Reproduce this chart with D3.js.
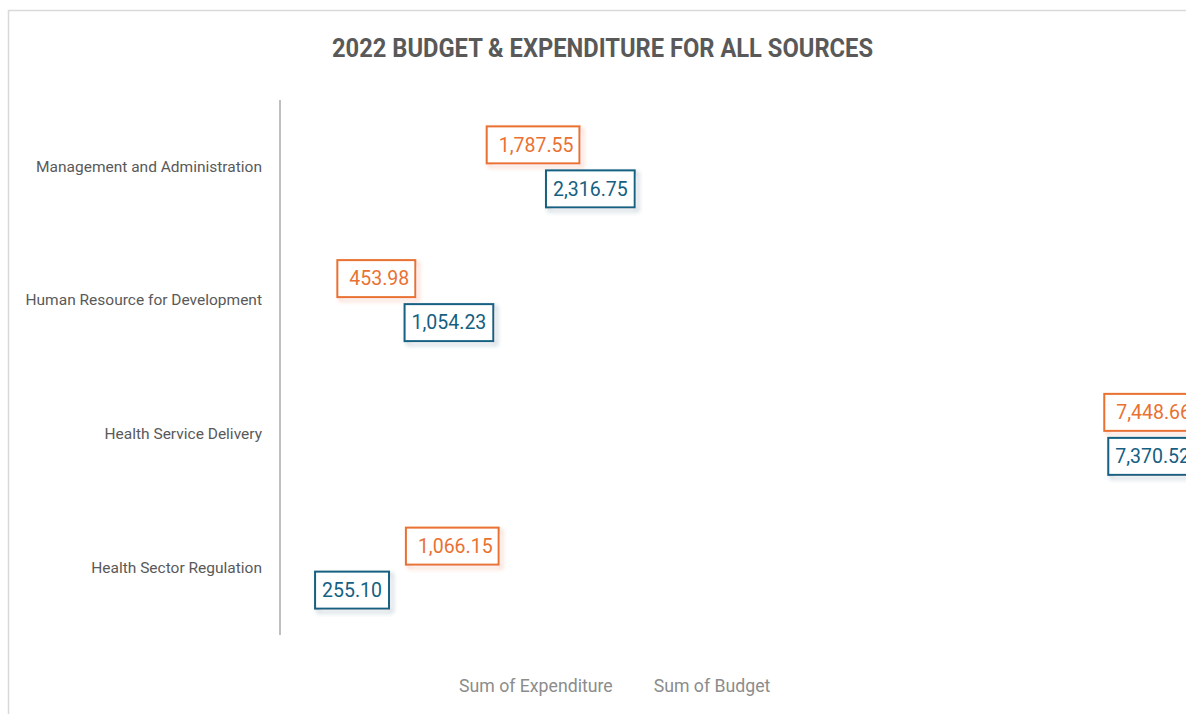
<!DOCTYPE html>
<html>
<head>
<meta charset="utf-8">
<script src="https://cdn.jsdelivr.net/npm/d3@7"></script>
<style>
  html, body { margin: 0; padding: 0; background: #ffffff; }
  svg { display: block; }
</style>
</head>
<body>
<svg id="chart" width="1186" height="714"></svg>
<script>
// Budget vs expenditure per programme area (2022, all sources)
const categories = [
  "Management and Administration",
  "Human Resource for Development",
  "Health Service Delivery",
  "Health Sector Regulation"
];
const seriesNames = ["Sum of Expenditure", "Sum of Budget"];
const expenditure = [1787.55, 453.98, 7448.66, 1066.15];
const budget = [2316.75, 1054.23, 7370.52, 255.10];
const chartTitle = "2022 BUDGET & EXPENDITURE FOR ALL SOURCES";

const W = 1186, H = 714;
const svg = d3.select("#chart");

const colors = { "Sum of Expenditure": "#E97132", "Sum of Budget": "#156082" };
const padLeft = { "Sum of Expenditure": 12, "Sum of Budget": 7 };
const padRight = { "Sum of Expenditure": 6, "Sum of Budget": 7 };

// soft shadow under the label boxes
const defs = svg.append("defs");
const f = defs.append("filter").attr("id", "lblShadow")
  .attr("x", "-20%").attr("y", "-30%").attr("width", "150%").attr("height", "180%");
f.append("feGaussianBlur").attr("in", "SourceGraphic").attr("stdDeviation", 2).attr("result", "b");
f.append("feOffset").attr("in", "b").attr("dx", 3).attr("dy", 3).attr("result", "o");
f.append("feComponentTransfer").attr("in", "o").attr("result", "t")
  .append("feFuncA").attr("type", "linear").attr("slope", 0.45);
const m = f.append("feMerge");
m.append("feMergeNode").attr("in", "t");
m.append("feMergeNode").attr("in", "SourceGraphic");

// chart frame
svg.append("rect")
  .attr("x", 8.5).attr("y", 10.5).attr("width", 1400).attr("height", 900)
  .attr("fill", "#ffffff").attr("stroke", "#d9d9d9").attr("stroke-width", 1.5);

// title
svg.append("text")
  .attr("x", 602.5).attr("y", 57)
  .attr("text-anchor", "middle")
  .attr("font-family", "Roboto, 'Liberation Sans', sans-serif")
  .attr("font-weight", 700)
  .attr("font-size", 25)
  .attr("fill", "#595959")
  .attr("textLength", 541)
  .attr("lengthAdjust", "spacingAndGlyphs")
  .text(chartTitle);

// scales
const x = d3.scaleLinear().domain([0, 8000]).range([280, 1176]);
const y = d3.scaleBand().domain(categories).range([100, 635])
  .paddingInner(0.342).paddingOuter(0.171);
const ys = d3.scaleBand().domain(seriesNames).range([0, y.bandwidth()]);

const rows = categories.map((c, i) => ({
  category: c,
  values: [
    { series: seriesNames[0], value: expenditure[i] },
    { series: seriesNames[1], value: budget[i] }
  ]
}));

// category axis (labels + axis line only)
const yAxis = svg.append("g")
  .attr("transform", "translate(280,0)")
  .call(d3.axisLeft(y).tickSize(0).tickPadding(18));
yAxis.select(".domain").remove();
yAxis.selectAll("text")
  .attr("font-family", "Roboto, 'Liberation Sans', sans-serif")
  .attr("font-size", 15.5)
  .attr("fill", "#595959")
  .attr("dy", "0.3em");
svg.append("line")
  .attr("x1", 280).attr("x2", 280)
  .attr("y1", y.range()[0]).attr("y2", y.range()[1])
  .attr("stroke", "#bfbfbf").attr("stroke-width", 2);

// bars (no fill) and their value labels
const groups = svg.append("g").selectAll("g.cat")
  .data(rows).join("g").attr("class", "cat")
  .attr("transform", d => `translate(0,${y(d.category)})`);

groups.selectAll("rect.bar")
  .data(d => d.values).join("rect").attr("class", "bar")
  .attr("x", x(0))
  .attr("y", d => ys(d.series))
  .attr("width", d => x(d.value) - x(0))
  .attr("height", ys.bandwidth())
  .attr("fill", "none");

const fmt = d3.format(",.2f");
const boxH = 37;
const rightLimit = 1197;

const labels = groups.selectAll("g.lbl")
  .data(d => d.values).join("g").attr("class", "lbl");

labels.each(function (d) {
  const g = d3.select(this);
  const rect = g.append("rect")
    .attr("fill", "#ffffff")
    .attr("stroke", colors[d.series])
    .attr("stroke-width", 2)
    .attr("filter", "url(#lblShadow)");
  const t = g.append("text")
    .attr("font-family", "Roboto, 'Liberation Sans', sans-serif")
    .attr("font-size", 19.5)
    .attr("fill", colors[d.series])
    .attr("dy", "0.35em")
    .text(fmt(d.value));
  const tw = t.node().getComputedTextLength();
  const bw = padLeft[d.series] + tw + padRight[d.series];
  let bx = x(d.value) + 6.5;
  if (bx + bw > rightLimit) bx = rightLimit - bw;
  const cy = ys(d.series) + ys.bandwidth() / 2;
  rect.attr("x", bx).attr("y", cy - boxH / 2).attr("width", bw).attr("height", boxH);
  t.attr("x", bx + padLeft[d.series]).attr("y", cy);
});

// legend (text entries, keys carry no fill)
const legend = svg.append("g").attr("transform", "translate(0,692)");
let lx = 447;
seriesNames.forEach((s, i) => {
  legend.append("rect")
    .attr("x", lx).attr("y", -11).attr("width", 8).attr("height", 8)
    .attr("fill", "none");
  const tt = legend.append("text")
    .attr("x", lx + 12).attr("y", 0)
    .attr("font-family", "Roboto, 'Liberation Sans', sans-serif")
    .attr("font-size", 17.7)
    .attr("fill", "#8c8c8c")
    .text(s);
  lx += 12 + tt.node().getComputedTextLength() + 29;
});
</script>
</body>
</html>
